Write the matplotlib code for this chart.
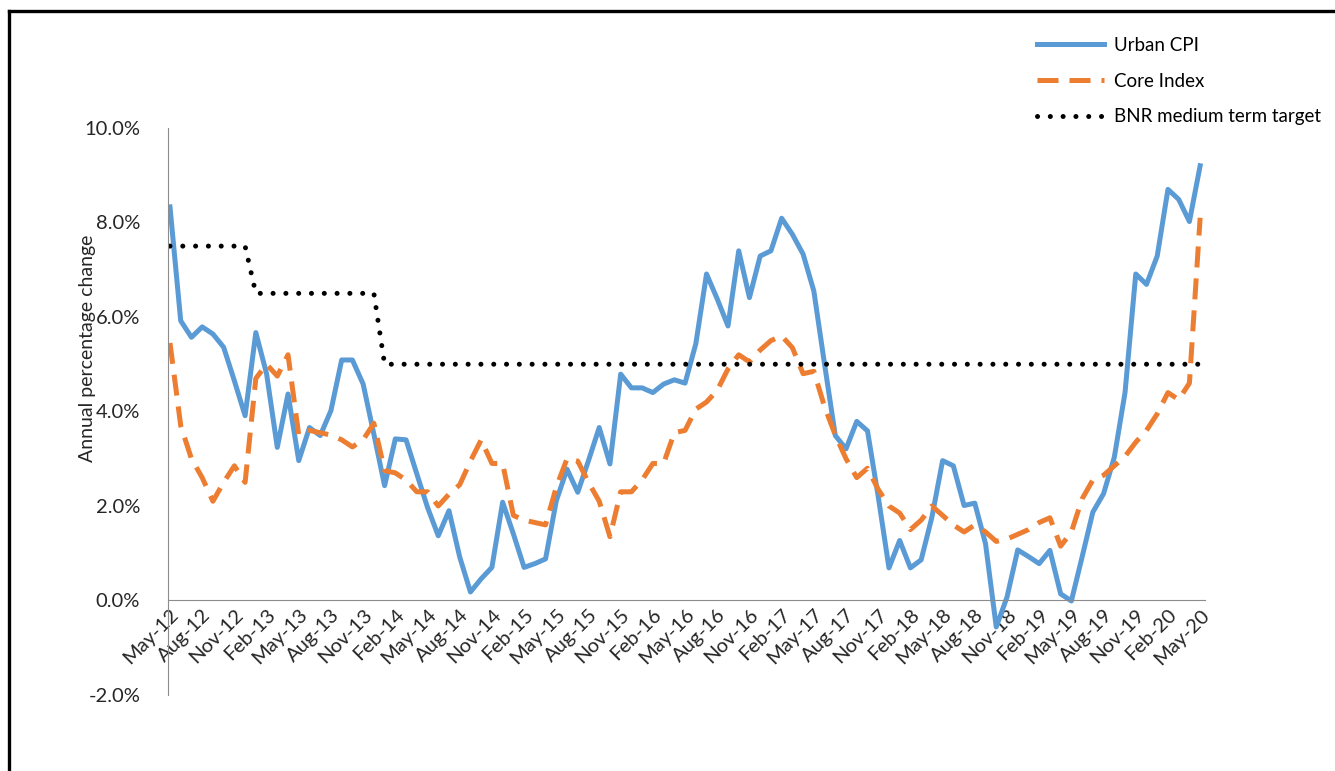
import numpy as np
import matplotlib.pyplot as plt
from matplotlib.lines import Line2D
from matplotlib.ticker import FuncFormatter

plt.rcParams['font.family'] = ['Lato', 'DejaVu Sans']

# monthly, May-12 .. May-20 (97 months)
months = ['May', 'Jun', 'Jul', 'Aug', 'Sep', 'Oct', 'Nov', 'Dec', 'Jan', 'Feb', 'Mar', 'Apr']
dates = []
for k in range(97):
    m = months[k % 12]
    yr = 12 + (k + 4) // 12
    dates.append(f'{m}-{yr}')

urban_cpi = [
    8.33, 5.92, 5.57, 5.79, 5.64, 5.36, 4.65, 3.91, 5.67, 4.80, 3.24, 4.37,
    2.96, 3.66, 3.49, 4.02, 5.09, 5.09, 4.58, 3.52, 2.43, 3.42, 3.40, 2.68,
    1.97, 1.37, 1.90, 0.92, 0.18, 0.46, 0.70, 2.08, 1.41, 0.70, 0.78, 0.88,
    2.11, 2.78, 2.29, 2.96, 3.66, 2.89, 4.79, 4.50, 4.50, 4.40, 4.58, 4.67,
    4.60, 5.43, 6.91, 6.38, 5.81, 7.40, 6.41, 7.29, 7.40, 8.09, 7.75, 7.33,
    6.55, 5.00, 3.49, 3.21, 3.79, 3.59, 2.20, 0.69, 1.27, 0.69, 0.86, 1.76,
    2.96, 2.85, 2.01, 2.06, 1.20, -0.56, 0.07, 1.07, 0.93, 0.78, 1.06, 0.14,
    -0.01, 0.92, 1.87, 2.26, 3.03, 4.40, 6.91, 6.69, 7.29, 8.70, 8.49, 8.02,
    9.20,
]

core_index = [
    5.45, 3.70, 3.00, 2.60, 2.10, 2.50, 2.85, 2.50, 4.70, 5.00, 4.75, 5.20,
    3.50, 3.60, 3.55, 3.50, 3.40, 3.25, 3.40, 3.75, 2.75, 2.70, 2.55, 2.30,
    2.30, 2.00, 2.25, 2.45, 2.95, 3.40, 2.90, 2.90, 1.80, 1.70, 1.65, 1.60,
    2.40, 3.00, 2.95, 2.50, 2.10, 1.35, 2.30, 2.30, 2.55, 2.90, 2.90, 3.55,
    3.60, 4.05, 4.20, 4.45, 4.90, 5.20, 5.05, 5.30, 5.50, 5.60, 5.35, 4.80,
    4.85, 4.10, 3.50, 3.00, 2.60, 2.80, 2.35, 2.00, 1.85, 1.50, 1.70, 2.00,
    1.80, 1.60, 1.45, 1.60, 1.45, 1.25, 1.30, 1.40, 1.50, 1.65, 1.75, 1.15,
    1.45, 2.15, 2.55, 2.65, 2.85, 3.05, 3.35, 3.60, 3.95, 4.40, 4.25, 4.60,
    8.10,
]

bnr_target = [7.5] * 8 + [6.5] * 12 + [5.0] * 77

x = np.arange(len(dates))

fig = plt.figure(figsize=(13.35, 7.71), dpi=100)
ax = fig.add_axes([0.1258, 0.0986, 0.9026 - 0.1258, 0.834 - 0.0986])

ax.plot(x, urban_cpi, color='#5B9BD5', linewidth=3.6, label='Urban CPI',
        solid_joinstyle='round')
ax.plot(x, core_index, color='#ED7D31', linewidth=3.6, label='Core Index',
        linestyle=(0, (4.2, 2.2)), dash_capstyle='butt')
ax.plot(x, bnr_target, color='black', linewidth=3.6,
        label='BNR medium term target', linestyle=(0, (0.01, 2.55)),
        dash_capstyle='round')

ax.set_xlim(-0.19, 96.45)
ax.set_ylim(-2, 10)
ax.set_yticks(np.arange(-2, 10.1, 2))
ax.yaxis.set_major_formatter(FuncFormatter(lambda v, p: f'{v:.1f}%'))

for s in ['top', 'right']:
    ax.spines[s].set_visible(False)
ax.spines['bottom'].set_position(('data', 0))
ax.spines['bottom'].set_color('#8c8c8c')
ax.spines['left'].set_color('#8c8c8c')
ax.tick_params(axis='both', length=0, labelsize=14.5, colors='#262626')
ax.tick_params(axis='x', pad=4)
ax.tick_params(axis='y', pad=20)

ax.set_xticks(x[::3])
ax.set_xticklabels(dates[::3])
plt.setp(ax.get_xticklabels(), rotation=45, ha='right', rotation_mode='anchor')

fig.text(0.0655, 1 - 348 / 771, 'Annual percentage change', rotation=90,
         ha='center', va='center', fontsize=14, color='#262626')

ax.legend(loc='upper left', bbox_to_anchor=(1020 / 1335, 1 - 20 / 771),
          bbox_transform=fig.transFigure, frameon=False, fontsize=13.5,
          handlelength=3.6, labelspacing=1.0, handletextpad=0.5)

# outer border
fig.add_artist(Line2D([9 / 1335, 1.0], [1 - 11 / 771, 1 - 11 / 771],
                      transform=fig.transFigure, color='black', linewidth=2.4))
fig.add_artist(Line2D([9 / 1335, 9 / 1335], [0, 1 - 11 / 771],
                      transform=fig.transFigure, color='black', linewidth=2.4))

fig.savefig('out.png', dpi=100)
